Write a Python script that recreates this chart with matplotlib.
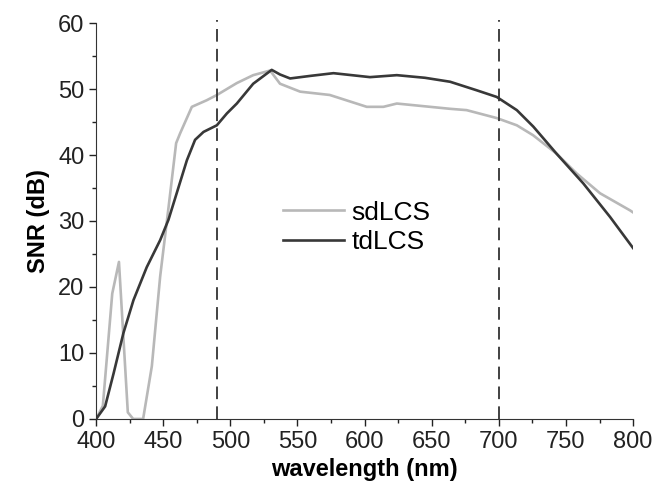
import matplotlib
matplotlib.use('Agg')
import matplotlib.pyplot as plt
from matplotlib.ticker import MultipleLocator

plt.rcParams['font.family'] = ['Liberation Sans', 'DejaVu Sans']

# sdLCS curve
sd_wl = [400, 405, 412, 417, 423.6, 427.6, 435, 441.5, 447.7, 453.9, 459.6, 462.6,
         471.3, 482.4, 490, 504.8, 517, 529.6, 537, 552, 574, 601.6, 614, 624,
         663.7, 676, 698.4, 713.4, 725.5, 743, 758, 775.4, 797.8, 800]
sd_snr = [0, 2, 19, 23.8, 1, 0, 0, 8, 21.6, 32, 41.8, 43.3,
          47.3, 48.3, 49.1, 50.9, 52.1, 52.8, 50.8, 49.6, 49.1, 47.3, 47.3, 47.8,
          47, 46.8, 45.6, 44.5, 43, 40.2, 37.2, 34.2, 31.6, 31.3]

# tdLCS curve
td_wl = [400, 406.7, 413, 420.3, 427.8, 437.7, 447.7, 453.9, 460, 467.6, 473.7, 480,
         489.9, 497.4, 504.8, 517, 530.8, 537, 544.5, 560, 576.8, 604, 624, 645,
         663.7, 683.6, 698.4, 713.4, 725.7, 743, 762.9, 782.9, 800]
td_snr = [0, 1.9, 6.9, 13, 18, 23, 27.1, 30.2, 34.2, 39.2, 42.3, 43.5,
          44.5, 46.3, 47.8, 50.8, 52.9, 52.2, 51.6, 52.0, 52.4, 51.8, 52.1, 51.7,
          51.1, 49.8, 48.8, 46.8, 44.3, 40.2, 35.7, 30.6, 25.9]

band_edges = [490, 700]

fig = plt.figure(figsize=(6.54, 4.9), dpi=100)
ax = fig.add_axes([0.147, 0.145, 0.821, 0.808])

ax.plot(sd_wl, sd_snr, color='#b8b8b8', lw=1.9, label='sdLCS')
ax.plot(td_wl, td_snr, color='#383838', lw=1.9, label='tdLCS')
for x in band_edges:
    ax.plot([x, x], [0, 60.5], color='#333333', lw=1.3, ls=(0, (7, 4)), clip_on=False)

ax.set_xlim(400, 800)
ax.set_ylim(0, 60)
ax.xaxis.set_major_locator(MultipleLocator(50))
ax.xaxis.set_minor_locator(MultipleLocator(25))
ax.yaxis.set_major_locator(MultipleLocator(10))
ax.yaxis.set_minor_locator(MultipleLocator(5))
ax.tick_params(which='major', direction='out', length=5, width=1, labelsize=17, colors='#222222')
ax.tick_params(which='minor', direction='out', length=3, width=1, colors='#222222')
for s in ['top', 'right']:
    ax.spines[s].set_visible(False)
for s in ['left', 'bottom']:
    ax.spines[s].set_color('#333333')

ax.set_xlabel('wavelength (nm)', fontsize=17, fontweight='bold', labelpad=4)
ax.set_ylabel('SNR (dB)', fontsize=17, fontweight='bold', labelpad=6)

ax.legend(loc='center left', bbox_to_anchor=(0.348, 0.484), frameon=False, fontsize=19,
          handlelength=2.3, handletextpad=0.3, labelspacing=0.2,
          borderpad=0, borderaxespad=0)

fig.savefig('out.png', dpi=100)
